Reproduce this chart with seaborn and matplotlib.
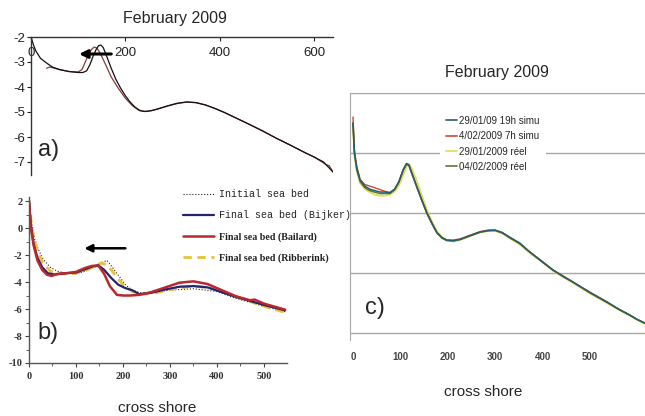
import matplotlib
matplotlib.use("Agg")
import matplotlib.pyplot as plt
import seaborn as sns
from matplotlib.lines import Line2D
from matplotlib.ticker import MultipleLocator

# ---------------- data ----------------
# panel a
A_INIT_X = [0, 5, 10, 20, 30, 45, 60, 80, 100, 110, 118, 125, 132, 138, 143, 148, 153, 160, 170, 180, 190, 200, 210, 220, 230, 240, 255, 270, 290, 310, 330, 350, 370, 390, 410, 430, 460, 490, 520, 550, 580, 600, 620, 640]
A_INIT_Y = [-2.0, -2.3, -2.55, -2.85, -3.0, -3.2, -3.3, -3.38, -3.42, -3.42, -3.35, -3.1, -2.75, -2.5, -2.35, -2.32, -2.42, -2.75, -3.25, -3.7, -4.05, -4.35, -4.6, -4.8, -4.93, -4.98, -4.95, -4.87, -4.75, -4.65, -4.6, -4.63, -4.72, -4.86, -5.02, -5.2, -5.47, -5.75, -6.05, -6.33, -6.62, -6.8, -7.0, -7.4]
A_FIN_X = [33, 40, 60, 80, 100, 108, 115, 122, 128, 134, 140, 148, 158, 170, 185, 200, 215, 230, 245, 265, 290, 310, 330, 350, 370, 390, 410, 430, 460, 490, 520, 550, 580, 600, 615, 625, 632, 640]
A_FIN_Y = [-3.25, -3.2, -3.3, -3.38, -3.4, -3.3, -3.0, -2.7, -2.5, -2.4, -2.45, -2.7, -3.1, -3.6, -4.05, -4.45, -4.75, -4.95, -4.98, -4.9, -4.76, -4.66, -4.6, -4.62, -4.72, -4.86, -5.02, -5.2, -5.47, -5.75, -6.05, -6.33, -6.62, -6.8, -6.98, -7.1, -7.15, -7.4]
A_TICKS_X = [0, 200, 400, 600]
A_TICKS_Y = [-2, -3, -4, -5, -6, -7]

# panel b
B_LABELS = ["Initial sea bed", "Final sea bed (Bijker)", "Final sea bed (Bailard)", "Final sea bed (Ribberink)"]
INIT_X = [0, 5, 12, 20, 30, 45, 60, 80, 100, 120, 140, 155, 166, 175, 190, 205, 220, 236, 260, 300, 350, 400, 430, 460, 500, 545]
INIT_Y = [2.0, 0.5, -0.8, -1.6, -2.3, -2.9, -3.2, -3.35, -3.4, -3.2, -2.9, -2.55, -2.4, -2.8, -3.5, -4.2, -4.6, -4.8, -4.8, -4.6, -4.5, -4.7, -5.1, -5.4, -5.8, -6.2]
BIJ_X = [0, 4, 10, 18, 28, 40, 55, 75, 100, 120, 135, 147, 160, 175, 190, 205, 219, 235, 260, 290, 320, 350, 380, 410, 440, 470, 500, 545]
BIJ_Y = [2.0, 0.2, -1.2, -2.2, -2.9, -3.35, -3.45, -3.35, -3.3, -3.05, -2.85, -2.75, -3.1, -3.7, -4.2, -4.45, -4.6, -4.9, -4.8, -4.55, -4.35, -4.3, -4.4, -4.75, -5.1, -5.4, -5.7, -6.1]
BAI_X = [0, 4, 10, 18, 28, 38, 48, 60, 80, 100, 120, 135, 148, 160, 172, 187, 200, 215, 235, 260, 290, 320, 350, 380, 410, 440, 470, 480, 500, 520, 545]
BAI_Y = [2.0, 0.0, -1.3, -2.4, -3.1, -3.45, -3.55, -3.4, -3.35, -3.25, -2.95, -2.8, -2.8, -3.4, -4.3, -4.95, -5.0, -5.0, -4.95, -4.75, -4.4, -4.05, -3.95, -4.15, -4.6, -5.05, -5.35, -5.3, -5.6, -5.8, -6.05]
RIB_X = [0, 5, 12, 20, 30, 45, 60, 80, 100, 120, 140, 152, 160, 175, 190, 205, 220, 240, 270, 310, 350, 390, 430, 470, 500, 545]
RIB_Y = [2.0, 0.3, -1.0, -1.9, -2.6, -3.2, -3.4, -3.4, -3.35, -3.15, -2.85, -2.6, -2.65, -3.1, -3.8, -4.35, -4.7, -4.9, -4.8, -4.5, -4.3, -4.45, -4.95, -5.45, -5.8, -6.25]
B_TICKS_X = [0, 100, 200, 300, 400, 500]
B_TICKS_Y = [2, 0, -2, -4, -6, -8, -10]

# panel c
C_LABELS = ["29/01/09 19h simu", "4/02/2009 7h simu", "29/01/2009 réel", "04/02/2009 réel"]
C_X = [0, 3, 8, 15, 25, 35, 45, 57, 68, 78, 88, 97, 106, 113, 118, 125, 135, 146, 156, 167, 177, 188, 198, 212, 226, 247, 268, 285, 300, 315, 330, 352, 373, 398, 422, 443, 464, 500, 536, 560, 584, 600, 616]
C_SIM1_Y = [-1.0, -2.0, -2.5, -2.9, -3.1, -3.2, -3.25, -3.3, -3.3, -3.33, -3.2, -2.95, -2.55, -2.35, -2.4, -2.7, -3.13, -3.6, -4.0, -4.35, -4.65, -4.82, -4.9, -4.92, -4.88, -4.75, -4.63, -4.58, -4.57, -4.65, -4.8, -5.0, -5.3, -5.6, -5.9, -6.1, -6.3, -6.65, -6.97, -7.2, -7.4, -7.55, -7.67]
C_SIM2_Y = [-0.8, -1.9, -2.45, -2.88, -3.05, -3.1, -3.15, -3.22, -3.28, -3.31, -3.2, -2.95, -2.55, -2.35, -2.4, -2.72, -3.15, -3.62, -4.02, -4.37, -4.66, -4.83, -4.9, -4.9, -4.86, -4.74, -4.62, -4.57, -4.57, -4.66, -4.8, -5.02, -5.3, -5.62, -5.9, -6.12, -6.3, -6.66, -6.98, -7.2, -7.4, -7.55, -7.67]
C_OBS1_Y = [-1.1, -2.1, -2.6, -3.0, -3.2, -3.3, -3.38, -3.42, -3.42, -3.38, -3.28, -3.08, -2.72, -2.45, -2.36, -2.55, -2.95, -3.45, -3.9, -4.3, -4.6, -4.8, -4.9, -4.95, -4.9, -4.77, -4.65, -4.6, -4.6, -4.68, -4.83, -5.05, -5.33, -5.62, -5.93, -6.13, -6.33, -6.68, -7.0, -7.22, -7.42, -7.57, -7.69]
C_OBS2_Y = [-1.0, -2.0, -2.55, -2.95, -3.15, -3.25, -3.3, -3.35, -3.35, -3.35, -3.22, -2.97, -2.57, -2.37, -2.42, -2.72, -3.15, -3.6, -4.0, -4.36, -4.66, -4.84, -4.92, -4.93, -4.88, -4.76, -4.64, -4.59, -4.58, -4.66, -4.82, -5.02, -5.3, -5.6, -5.9, -6.1, -6.3, -6.64, -6.96, -7.2, -7.4, -7.55, -7.67]
C_TICKS_X = [0, 100, 200, 300, 400, 500]
C_GRID_Y = [0, -2, -4, -6, -8]

TITLE = "February 2009"
XLABEL = "cross shore"

# ---------------- style ----------------
sns.set_style("white")
plt.rcParams["font.family"] = ["Liberation Sans", "DejaVu Sans"]
plt.rcParams["axes.unicode_minus"] = False

W, H = 645, 416
fig = plt.figure(figsize=(W / 100, H / 100), dpi=100)


def rect(l, t, r, b):
    return [l / W, 1 - b / H, (r - l) / W, (b - t) / H]


def line(ax, x, y, **kw):
    sns.lineplot(x=x, y=y, ax=ax, estimator=None, sort=False, legend=False, **kw)


# ---------------- panel a ----------------
ax_a = fig.add_axes(rect(31, 37, 333, 175))
line(ax_a, A_FIN_X, A_FIN_Y, color="#8a3a3a", linewidth=0.9)
line(ax_a, A_INIT_X, A_INIT_Y, color="#111111", linewidth=0.9)
ax_a.set_xlim(0, 640)
ax_a.set_ylim(-7.52, -2)
for s in ["right", "bottom"]:
    ax_a.spines[s].set_visible(False)
for s in ["left", "top"]:
    ax_a.spines[s].set_color("#333333")
    ax_a.spines[s].set_linewidth(1.0)
ax_a.xaxis.tick_top()
ax_a.set_xticks(A_TICKS_X)
ax_a.set_yticks(A_TICKS_Y)
ax_a.tick_params(axis="x", top=True, bottom=False, labeltop=True, labelbottom=False,
                 direction="in", length=3, pad=-16, labelsize=9.5, colors="#222222")
ax_a.tick_params(axis="y", left=True, direction="out", length=3, pad=1.5, labelsize=9.5, colors="#222222")
ax_a.set_xlabel("")
ax_a.set_ylabel("")
ax_a.annotate("", xy=(96, -2.68), xytext=(176, -2.68),
              arrowprops=dict(arrowstyle="-|>", color="black", lw=2.2, mutation_scale=12))
fig.text(38 / W, 1 - 150 / H, "a)", fontsize=17, va="center", ha="left")
fig.text(175 / W, 1 - 18 / H, TITLE, fontsize=11.5, va="center", ha="center")

# ---------------- panel b ----------------
ax_b = fig.add_axes(rect(29, 197, 287, 363))
line(ax_b, INIT_X, INIT_Y, color="#222222", linewidth=0.8, linestyle=":")
line(ax_b, RIB_X, RIB_Y, color="#e8c23a", linewidth=2.0, linestyle=(0, (3, 2)))
line(ax_b, BIJ_X, BIJ_Y, color="#23236e", linewidth=1.6)
line(ax_b, BAI_X, BAI_Y, color="#b8282e", linewidth=1.8)
ax_b.set_xlim(0, 549)
ax_b.set_ylim(-10, 2.3)
for s in ["right", "top"]:
    ax_b.spines[s].set_visible(False)
for s in ["left", "bottom"]:
    ax_b.spines[s].set_color("#555555")
    ax_b.spines[s].set_linewidth(1.0)
ax_b.set_xticks(B_TICKS_X)
ax_b.set_yticks(B_TICKS_Y)
ax_b.xaxis.set_minor_locator(MultipleLocator(50))
ax_b.yaxis.set_minor_locator(MultipleLocator(1))
ax_b.tick_params(which="both", bottom=True, left=True, direction="out", colors="#444444")
ax_b.tick_params(which="major", length=3)
ax_b.tick_params(which="minor", length=2)
ax_b.tick_params(axis="x", pad=3.5)
ax_b.tick_params(axis="y", pad=1.5)
for lab in ax_b.get_xticklabels() + ax_b.get_yticklabels():
    lab.set_fontfamily("Liberation Serif")
    lab.set_fontweight("bold")
    lab.set_fontsize(7.5)
    lab.set_color("#333333")
ax_b.set_xlabel("")
ax_b.set_ylabel("")
ax_b.annotate("", xy=(112, -1.5), xytext=(211, -1.5),
              arrowprops=dict(arrowstyle="-|>", color="black", lw=1.8, mutation_scale=11))
fig.text(37 / W, 1 - 333 / H, "b)", fontsize=17, va="center", ha="left")
fig.text(157 / W, 1 - 408 / H, XLABEL, fontsize=11, va="center", ha="center")

b_handles = [
    Line2D([], [], color="#222222", lw=0.8, linestyle=":"),
    Line2D([], [], color="#23236e", lw=1.6),
    Line2D([], [], color="#b8282e", lw=1.8),
    Line2D([], [], color="#e8c23a", lw=2.0, linestyle=(0, (3, 2))),
]
leg_b = ax_b.legend(b_handles, B_LABELS, loc="upper left",
                    bbox_to_anchor=(176 / W, 1 - 182 / H), bbox_transform=fig.transFigure,
                    frameon=False, fontsize=7.2, handlelength=3.1, handletextpad=0.5,
                    labelspacing=1.15, borderpad=0.2)
for i, t in enumerate(leg_b.get_texts()):
    if i < 2:
        t.set_fontfamily("Liberation Mono")
    else:
        t.set_fontfamily("Liberation Serif")
        t.set_fontweight("bold")
    t.set_color("#222222")

# ---------------- panel c ----------------
ax_c = fig.add_axes(rect(350, 93, 645, 340))
line(ax_c, C_X, C_OBS1_Y, color="#e3dc55", linewidth=1.3)
line(ax_c, C_X, C_SIM2_Y, color="#d2472f", linewidth=1.0)
line(ax_c, C_X, C_OBS2_Y, color="#5e7434", linewidth=1.1)
line(ax_c, C_X, C_SIM1_Y, color="#24606c", linewidth=1.1)
ax_c.set_xlim(-6.3, 616)
ax_c.set_ylim(-8.23, 0)
for s in ["right", "bottom"]:
    ax_c.spines[s].set_visible(False)
ax_c.spines["top"].set_color("#a8a8a8")
ax_c.spines["left"].set_color("#a8a8a8")
ax_c.set_yticks(C_GRID_Y)
ax_c.yaxis.grid(True, color="#a8a8a8", linewidth=1.0)
ax_c.set_axisbelow(True)
ax_c.tick_params(axis="y", left=False, labelleft=False)
ax_c.set_xticks(C_TICKS_X)
ax_c.tick_params(axis="x", bottom=False, length=0, pad=9, labelsize=7, colors="#444444")
for lab in ax_c.get_xticklabels():
    lab.set_fontweight("bold")
ax_c.set_xlabel("")
ax_c.set_ylabel("")
c_handles = [
    Line2D([], [], color="#24606c", lw=1.2),
    Line2D([], [], color="#d2472f", lw=1.2),
    Line2D([], [], color="#e3dc55", lw=1.2),
    Line2D([], [], color="#5e7434", lw=1.2),
]
leg_c = ax_c.legend(c_handles, C_LABELS, loc="upper left",
                    bbox_to_anchor=(440 / W, 1 - 110 / H), bbox_transform=fig.transFigure,
                    frameon=True, fontsize=7, handlelength=1.1, handletextpad=0.3,
                    labelspacing=0.55, borderpad=0.6, borderaxespad=0)
leg_c.get_frame().set_edgecolor("none")
leg_c.get_frame().set_facecolor("white")
leg_c.get_frame().set_alpha(1.0)
fig.text(365 / W, 1 - 308 / H, "c)", fontsize=17, va="center", ha="left")
fig.text(497 / W, 1 - 72 / H, TITLE, fontsize=11.5, va="center", ha="center")
fig.text(483 / W, 1 - 392 / H, XLABEL, fontsize=11, va="center", ha="center")

fig.savefig("out.png", dpi=100)
